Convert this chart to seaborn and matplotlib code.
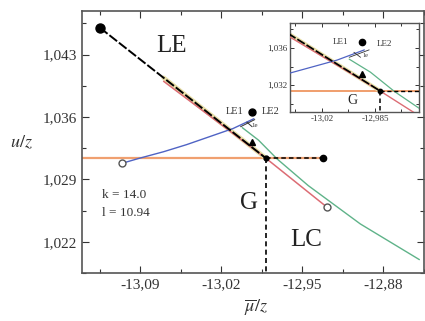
import matplotlib
matplotlib.use("Agg")
import matplotlib.pyplot as plt
import seaborn as sns
import pandas as pd

# ---- phase diagram data (mu/z, u/z) ----
crit_point = (-13.125, 1.0460)          # LE critical point
triple_point = (-12.9816, 1.03137)      # G / LE / LC meeting point
gas_end = (-13.106, 1.0308)             # open circle, left
dash_end = (-12.9323, 1.03137)          # filled dot, right
lc_end = (-12.929, 1.0259)              # open circle, lower right
le1_point = (-12.9937, 1.0366)
le2_point = (-12.9937, 1.0332)

blue_x = [-13.106, -13.09, -13.07, -13.05, -13.03, -13.01, -12.992]
blue_y = [1.0308, 1.0314, 1.0321, 1.0329, 1.0338, 1.0347, 1.0358]

red_x = [-13.07, -12.9816, -12.929]
red_y = [1.0400, 1.03137, 1.0259]

green_x = [-13.002, -12.988, -12.972, -12.945, -12.90, -12.849]
green_y = [1.0348, 1.0334, 1.0313, 1.0283, 1.0240, 1.0200]

halo_x = [-13.07, -12.9816]
halo_y = [1.0404, 1.03137]

orange_x = [-13.16, -12.9323]
orange_y = [1.03137, 1.03137]

xticks = [-13.09, -13.02, -12.95, -12.88]
xtick_labels = ["-13,09", "-13,02", "-12,95", "-12,88"]
yticks = [1.022, 1.029, 1.036, 1.043]
ytick_labels = ["1,022", "1,029", "1,036", "1,043"]

inset_xticks = [-13.02, -12.985]
inset_xtick_labels = ["-13,02", "-12,985"]
inset_yticks = [1.032, 1.036]
inset_ytick_labels = ["1,032", "1,036"]

blue_df = pd.DataFrame({"mu": blue_x, "u": blue_y})
red_df = pd.DataFrame({"mu": red_x, "u": red_y})
green_df = pd.DataFrame({"mu": green_x, "u": green_y})
orange_df = pd.DataFrame({"mu": orange_x, "u": orange_y})
halo_df = pd.DataFrame({"mu": halo_x, "u": halo_y})

sns.set_theme(style="ticks")
plt.rcParams["font.family"] = ["Liberation Serif", "DejaVu Serif"]
plt.rcParams["mathtext.fontset"] = "stix"

C_BLUE = "#4f63c4"
C_RED = "#dc6c74"
C_GREEN = "#5fb389"
C_ORANGE = "#f0a070"
C_HALO = "#e8dfa8"


def draw_diagram(ax, ms=1.0, lw=1.0):
    sns.lineplot(data=orange_df, x="mu", y="u", ax=ax, color=C_ORANGE,
                 lw=1.6 * lw, sort=False, zorder=2)
    sns.lineplot(data=halo_df, x="mu", y="u", ax=ax, color=C_HALO,
                 lw=3.2 * lw, sort=False, zorder=2)
    sns.lineplot(data=red_df, x="mu", y="u", ax=ax, color=C_RED,
                 lw=1.1 * lw, sort=False, zorder=3)
    sns.lineplot(data=green_df, x="mu", y="u", ax=ax, color=C_GREEN,
                 lw=1.0 * lw, sort=False, zorder=3)
    sns.lineplot(data=blue_df, x="mu", y="u", ax=ax, color=C_BLUE,
                 lw=1.0 * lw, sort=False, zorder=3)
    # LE coexistence line from the critical point
    ax.plot([crit_point[0], triple_point[0]], [crit_point[1], triple_point[1]],
            color="black", lw=1.4 * lw, ls=(0, (5, 1.2)), zorder=4)
    # metastable continuations
    ax.plot([triple_point[0], dash_end[0]], [triple_point[1], dash_end[1]],
            color="black", lw=1.1 * lw, ls=(0, (3, 2)), zorder=4)
    ax.plot([triple_point[0], triple_point[0]], [triple_point[1], 1.015],
            color="black", lw=1.2 * lw, ls=(0, (3, 2)), zorder=4)
    # markers
    ax.plot(*triple_point, "o", color="black", ms=3.5 * ms, zorder=6)
    ax.plot(*dash_end, "o", color="black", ms=4.5 * ms, zorder=6)
    ax.plot(*le1_point, "o", color="black", ms=5.0 * ms, zorder=6)
    ax.plot(*le2_point, "^", color="black", ms=4.5 * ms, zorder=6)
    ax.plot(*gas_end, "o", mfc="white", mec="#555555", mew=1.0,
            ms=5.0 * ms, zorder=6)
    ax.plot(*lc_end, "o", mfc="white", mec="#555555", mew=1.0,
            ms=5.0 * ms, zorder=6)


fig = plt.figure(figsize=(4.25, 3.21), dpi=100)
ax = fig.add_axes([82 / 425, 48 / 321, 342 / 425, 262 / 321])
draw_diagram(ax)
ax.plot(*crit_point, "o", color="black", ms=6.5, zorder=6)

ax.set_xlim(-13.1405, -12.845)
ax.set_ylim(1.01998, 1.04788)
ax.set_xticks(xticks, xtick_labels)
ax.set_yticks(yticks, ytick_labels)
ax.set_xticks([t + 0.035 for t in xticks[:-1]] + [xticks[0] - 0.035, xticks[-1] + 0.035],
              minor=True)
ax.set_yticks([t + 0.0035 for t in yticks] + [yticks[0] - 0.0035], minor=True)
ax.tick_params(which="both", direction="in", top=True, right=True,
               labelsize=11, colors="#333333", width=0.8)
ax.tick_params(which="major", length=5)
ax.tick_params(which="minor", length=3)
for s in ax.spines.values():
    s.set_color("#555555")
    s.set_linewidth(1.2)
ax.set_xlabel("")
ax.set_ylabel("")
fig.text(21 / 425, 1 - 143 / 321, r"$u/z$", fontsize=13, ha="center",
         va="center", color="#333333")
fig.text(256 / 425, 1 - 307 / 321, r"$\overline{\mu}/z$", fontsize=13,
         ha="center", va="center", color="#333333")

ax.text(-13.063, 1.0439, "LE", fontsize=18, ha="center", va="center",
        color="#222222")
ax.text(-12.996, 1.0263, "G", fontsize=18, ha="center", va="center",
        color="#222222")
ax.text(-12.9465, 1.0222, "LC", fontsize=18, ha="center", va="center",
        color="#222222")
ax.text(-13.123, 1.0272, "k = 14.0", fontsize=9.5, ha="left", va="center",
        color="#333333")
ax.text(-13.123, 1.0252, "l = 10.94", fontsize=9.5, ha="left", va="center",
        color="#333333")

# LE1 / LE2 labels with crossing pointers
ax.annotate("LE1", xy=(-12.9935, 1.0349), xytext=(-13.0085, 1.0366),
            fontsize=7.5, ha="center", va="center", color="#333333",
            arrowprops=dict(arrowstyle="-", color="#333333", lw=0.7,
                            shrinkA=3, shrinkB=0), zorder=7)
ax.annotate("LE2", xy=(-13.0035, 1.0349), xytext=(-12.9775, 1.0366),
            fontsize=7.5, ha="center", va="center", color="#333333",
            arrowprops=dict(arrowstyle="-", color="#333333", lw=0.7,
                            shrinkA=3, shrinkB=0), zorder=7)
ax.text(-12.9915, 1.0350, "1e", fontsize=5, ha="center", va="center",
        color="#333333")

# zoomed inset around the meeting point
axin = fig.add_axes([290 / 425, (321 - 112) / 321, 129 / 425, 89 / 321])
axin.set_facecolor("white")
draw_diagram(axin, ms=0.9, lw=0.9)
axin.set_xlim(-13.0411, -12.9559)
axin.set_ylim(1.0291, 1.0387)
axin.set_xticks(inset_xticks, inset_xtick_labels)
axin.set_yticks(inset_yticks, inset_ytick_labels)
axin.set_xticks([-13.0375, -13.0025, -12.9675], minor=True)
axin.set_yticks([1.030, 1.034, 1.038], minor=True)
axin.tick_params(which="both", direction="in", top=True, right=True,
                 labelsize=6.5, colors="#333333", width=0.7, pad=2)
axin.tick_params(which="major", length=3)
axin.tick_params(which="minor", length=2)
for s in axin.spines.values():
    s.set_color("#555555")
    s.set_linewidth(1.0)
axin.set_xlabel("")
axin.set_ylabel("")
axin.text(-13.0, 1.0303, "G", fontsize=10, ha="center", va="center",
          color="#222222")
axin.annotate("LE1", xy=(-12.9945, 1.0350), xytext=(-13.0075, 1.0366),
              fontsize=6.5, ha="center", va="center", color="#333333",
              arrowprops=dict(arrowstyle="-", color="#333333", lw=0.6,
                              shrinkA=3, shrinkB=0), zorder=7)
axin.annotate("LE2", xy=(-13.002, 1.0350), xytext=(-12.9790, 1.0364),
              fontsize=6.5, ha="center", va="center", color="#333333",
              arrowprops=dict(arrowstyle="-", color="#333333", lw=0.6,
                              shrinkA=3, shrinkB=0), zorder=7)
axin.text(-12.9915, 1.0352, "1e", fontsize=4.5, ha="center", va="center",
          color="#333333")

fig.savefig("out.png", dpi=100, facecolor="white")
